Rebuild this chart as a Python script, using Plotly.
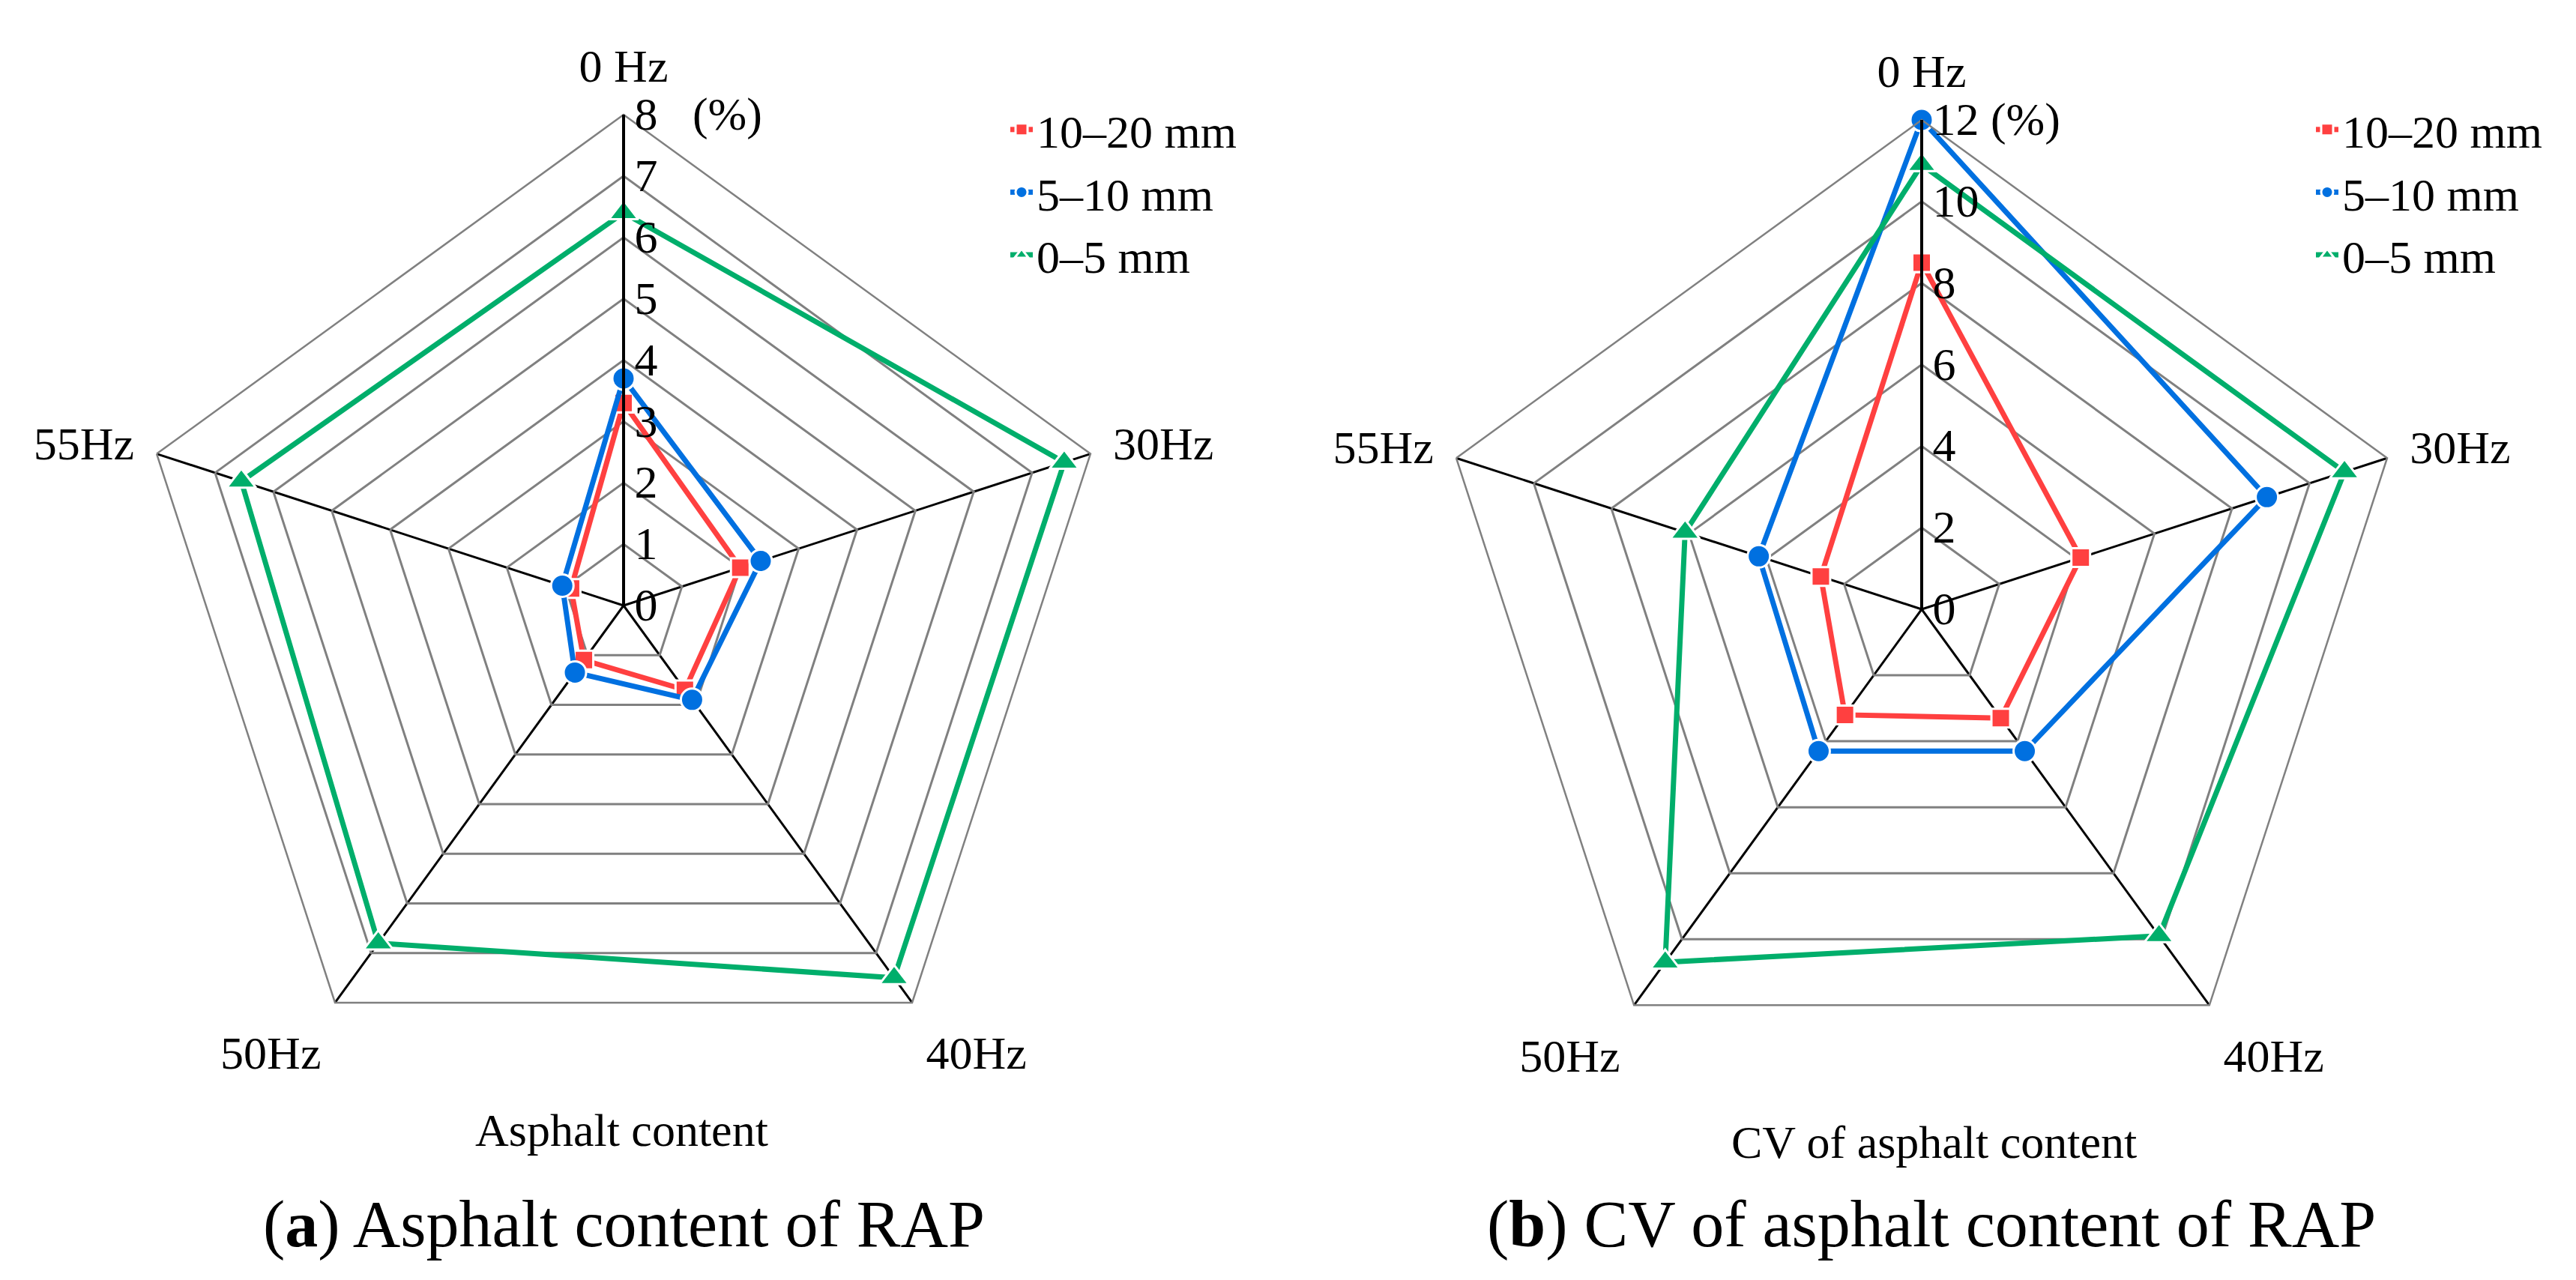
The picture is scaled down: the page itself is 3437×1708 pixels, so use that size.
import plotly.graph_objects as go

W, H = 3437, 1708

categories = ["0 Hz", "30Hz", "40Hz", "50Hz", "55Hz"]
series_names = ["10–20 mm", "5–10 mm", "0–5 mm"]

# (a) Asphalt content (%)
content_10_20 = [3.3, 2.0, 1.7, 1.1, 0.9]
content_5_10 = [3.7, 2.35, 1.9, 1.35, 1.05]
content_0_5 = [6.4, 7.55, 7.5, 6.8, 6.55]

# (b) CV of asphalt content (%)
cv_10_20 = [8.5, 4.1, 3.3, 3.2, 2.6]
cv_5_10 = [12.0, 8.9, 4.3, 4.3, 4.2]
cv_0_5 = [10.9, 10.9, 9.9, 10.7, 6.1]

ticks_a = [0, 1, 2, 3, 4, 5, 6, 7, 8]
ticktext_a = ["0", "1", "2", "3", "4", "5", "6", "7", "8\u2002 (%)"]
ticks_b = [0, 2, 4, 6, 8, 10, 12]
ticktext_b = ["0", "2", "4", "6", "8", "10", "12 (%)"]

colors = ["#FF4040", "#0070E0", "#00AE6B"]
symbols = ["square", "circle", "triangle-up"]
msizes = [25, 30, 34]

FONT = "Liberation Serif"
FS = 62

fig = go.Figure()


def add_series(values_list, polar, legend):
    for name, vals, col, sym, ms in zip(series_names, values_list, colors, symbols, msizes):
        fig.add_trace(go.Scatterpolar(
            r=list(vals) + [vals[0]],
            theta=categories + [categories[0]],
            mode="lines+markers",
            name=name,
            line=dict(color=col, width=7),
            marker=dict(symbol=sym, size=ms, color=col,
                        line=dict(color="white", width=3)),
            subplot=polar,
            legend=legend,
            showlegend=True,
        ))


add_series([content_10_20, content_5_10, content_0_5], "polar", "legend")
add_series([cv_10_20, cv_5_10, cv_0_5], "polar2", "legend2")


def polar_layout(dom_x, dom_y, rng, tv, tt):
    return dict(
        domain=dict(x=dom_x, y=dom_y),
        bgcolor="white",
        gridshape="linear",
        angularaxis=dict(
            direction="clockwise", rotation=90,
            categoryorder="array", categoryarray=categories,
            showgrid=True, gridcolor="black", gridwidth=3,
            showline=True, linecolor="#808080", linewidth=2.5,
            ticks="outside", ticklen=18, tickcolor="rgba(0,0,0,0)",
            tickfont=dict(family=FONT, size=FS, color="black"),
        ),
        radialaxis=dict(
            range=rng, tickvals=tv, ticktext=tt,
            angle=90, tickangle=90, side="clockwise",
            showline=True, linecolor="black", linewidth=4,
            showgrid=True, gridcolor="#808080", gridwidth=2.5,
            ticks="",
            tickfont=dict(family=FONT, size=FS, color="black"),
        ),
    )


def dom(cx, cy, r):
    return ([(cx - r) / W, (cx + r) / W], [(H - cy - r) / H, (H - cy + r) / H])


dxa, dya = dom(824, 800, 655)
dxb, dyb = dom(2556, 805, 653)

legend_common = dict(
    font=dict(family=FONT, size=FS, color="black"),
    bgcolor="rgba(0,0,0,0)", borderwidth=0,
    xanchor="left", yanchor="top", itemwidth=30,
)

ann_common = dict(xref="paper", yref="paper", showarrow=False,
                  xanchor="center", yanchor="middle")

fig.update_layout(
    width=W, height=H,
    margin=dict(l=0, r=0, t=0, b=0),
    paper_bgcolor="white",
    font=dict(family=FONT, size=FS, color="black"),
    polar=polar_layout(dxa, dya, [0, 8], ticks_a, ticktext_a),
    polar2=polar_layout(dxb, dyb, [0, 12], ticks_b, ticktext_b),
    legend=dict(x=1335 / W, y=1 - 118 / H, **legend_common),
    legend2=dict(x=3077 / W, y=1 - 118 / H, **legend_common),
    annotations=[
        dict(text="Asphalt content", x=821 / W, y=1 - 1500 / H,
             font=dict(family=FONT, size=FS), **ann_common),
        dict(text="CV of asphalt content", x=2572 / W, y=1 - 1516 / H,
             font=dict(family=FONT, size=FS), **ann_common),
        dict(text="(<b>a</b>) Asphalt content of RAP", x=824 / W, y=1 - 1625 / H,
             font=dict(family=FONT, size=88), **ann_common),
        dict(text="(<b>b</b>) CV of asphalt content of RAP", x=2569 / W, y=1 - 1625 / H,
             font=dict(family=FONT, size=88), **ann_common),
    ],
)

fig.write_html("out.html")
